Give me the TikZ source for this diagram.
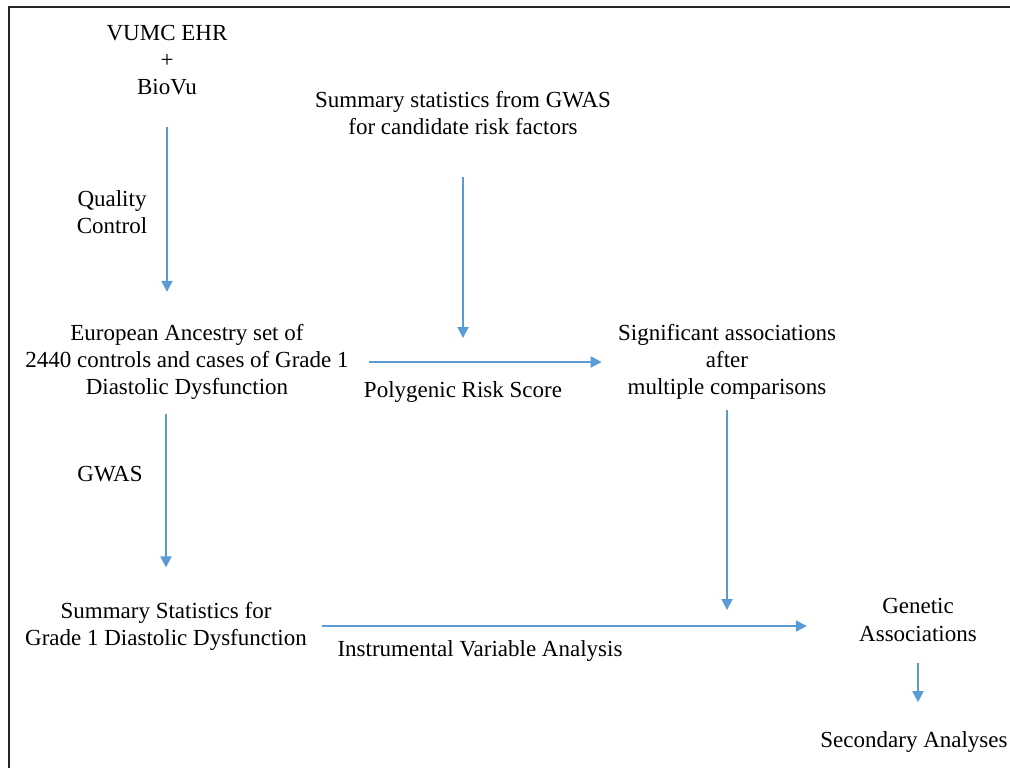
\documentclass[tikz,border=0pt]{standalone}
\usepackage{fontspec}
\setmainfont{Liberation Serif}
\usetikzlibrary{arrows.meta}
\definecolor{flowblue}{RGB}{91,155,213}
\begin{document}
\begin{tikzpicture}[x=0.5pt, y=-0.5pt, >={Triangle[length=5.5pt, width=5.5pt]},
  lbl/.style={align=center, inner sep=0pt, font=\fontsize{11.5}{13.6}\selectfont},
  flow/.style={->, draw=flowblue, fill=flowblue, line width=1pt}]
\useasboundingbox (0,0) rectangle (1010,767);
\draw[line width=1.2pt, draw=black!85] (9,7) rectangle (1030,790);

\node[lbl] (vumc) at (167,60) {VUMC EHR\\+\\BioVu};
\node[lbl] (qc) at (112,212) {Quality\\Control};
\node[lbl] (gwasstat) at (463,113) {Summary statistics from GWAS\\for candidate risk factors};
\node[lbl] (euro) at (187,362) {European Ancestry set of\\2440 controls and cases of Grade 1\\Diastolic Dysfunction};
\node[lbl] (prs) at (463,392) {Polygenic Risk Score};
\node[lbl] (sig) at (727,362) {Significant associations\\after\\multiple comparisons};
\node[lbl] (gwaslbl) at (110,474) {GWAS};
\node[lbl] (sumstat) at (166,626) {Summary Statistics for\\Grade 1 Diastolic Dysfunction};
\node[lbl] (iva) at (480,651) {Instrumental Variable Analysis};
\node[lbl] (gen) at (918,620) {Genetic\\Associations};
\node[lbl] (second) at (914,742) {Secondary Analyses};

\coordinate (prsjoin) at (463,338);
\coordinate (ivjoin) at (727,610);

\draw[flow, shorten <=16pt, shorten >=16pt] (vumc) -- (vumc |- euro.north);
\draw[flow, shorten <=21pt] (gwasstat) -- (prsjoin);
\draw[flow, shorten <=10pt, shorten >=8pt] (euro) -- (sig);
\draw[flow, shorten <=7pt, shorten >=17pt] (euro.south -| sumstat) -- (sumstat.north);
\draw[flow, shorten <=5pt] (sig) -- (ivjoin);
\draw[flow, shorten <=7.5pt, shorten >=26pt] (sumstat.east) -- (sumstat.east -| gen.west);
\draw[flow, shorten <=10.5pt, shorten >=14.5pt] (gen.south) -- (gen.south |- second.north);
\end{tikzpicture}
\end{document}
